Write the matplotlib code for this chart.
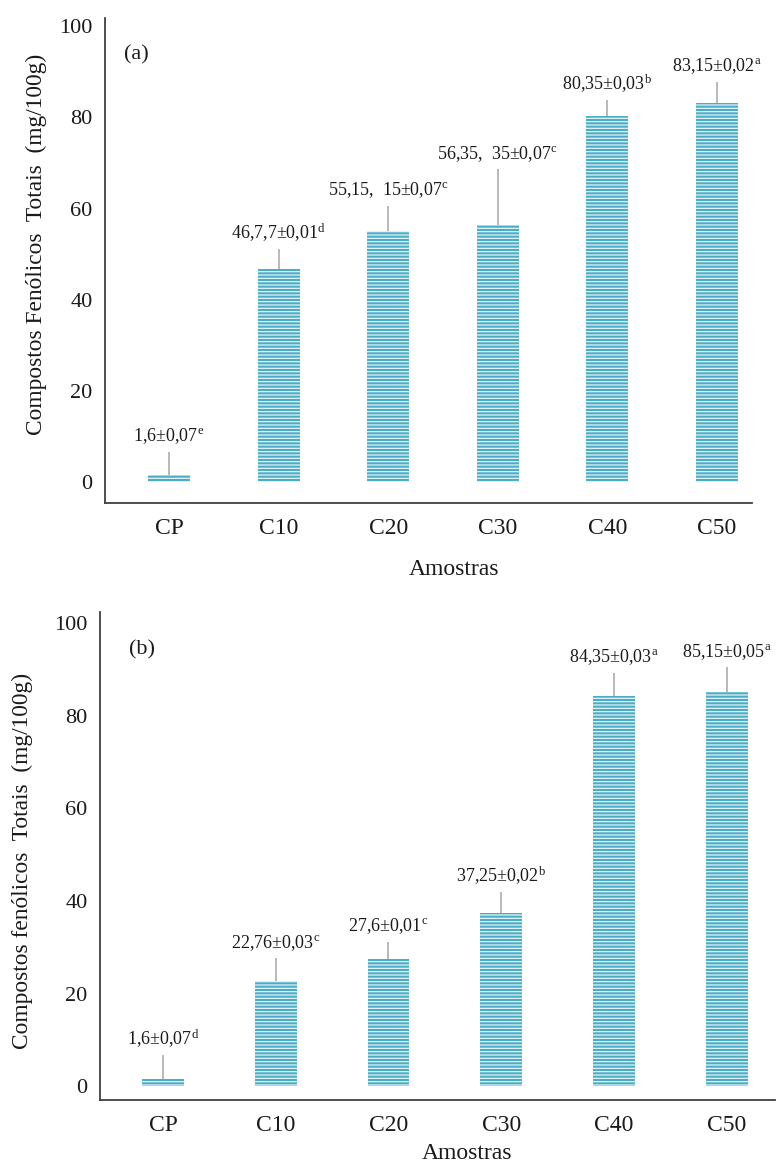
import matplotlib
matplotlib.use("Agg")
import matplotlib.pyplot as plt

plt.rcParams['font.family'] = ['Liberation Serif', 'DejaVu Serif']
plt.rcParams['mathtext.fontset'] = 'custom'
plt.rcParams['mathtext.rm'] = 'Liberation Serif'
plt.rcParams['mathtext.it'] = 'Liberation Serif'
plt.rcParams['hatch.linewidth'] = 0.9

categories = ["CP", "C10", "C20", "C30", "C40", "C50"]

values_a = [1.6, 46.7, 55.15, 56.35, 80.35, 83.15]
errors_a = [5.0, 4.4, 5.4, 12.3, 3.4, 4.6]
texts_a = ["1,6±0,07", "46,7,7±0,01", "55,15,  15±0,07", "56,35,  35±0,07", "80,35±0,03", "83,15±0,02"]
letters_a = ["e", "d", "c", "c", "b", "a"]

values_b = [1.6, 22.6, 27.4, 37.3, 84.3, 85.1]
errors_b = [5.1, 5.0, 3.8, 4.6, 5.0, 5.4]
texts_b = ["1,6±0,07", "22,76±0,03", "27,6±0,01", "37,25±0,02", "84,35±0,03", "85,15±0,05"]
letters_b = ["d", "c", "c", "b", "a", "a"]

W, H = 778, 1164
fig = plt.figure(figsize=(W / 100, H / 100), dpi=100)

bar_color = '#4bacc6'
stripe_color = '#e4f4f8'
err_color = '#a6a6a6'
spine_color = '#404040'
text_color = '#1a1a1a'


def panel(rect, values, errors, texts, letters, ylabel, tag, tagpos, xlim, ylim, width,
          ylabel_pos, xlabel_pos):
    ax = fig.add_axes(rect)
    x = list(range(len(categories)))
    ax.bar(x, values, width=width, color=bar_color, edgecolor=stripe_color,
           linewidth=0, hatch='-----', zorder=2)
    ax.errorbar(x, values, yerr=[[0] * len(errors), errors], fmt='none',
                ecolor=err_color, elinewidth=1.1, capsize=0, zorder=3)
    for xi, v, e, t, l in zip(x, values, errors, texts, letters):
        ax.annotate(t + r"$^{\mathrm{" + l + "}}$", (xi, v + e), xytext=(0, 4),
                    textcoords='offset points', ha='center', va='bottom',
                    fontsize=13, color=text_color)
    ax.set_xlim(*xlim)
    ax.set_ylim(*ylim)
    ax.set_xticks(x)
    ax.set_xticklabels(categories)
    ax.set_yticks([0, 20, 40, 60, 80, 100])
    for s in ['top', 'right']:
        ax.spines[s].set_visible(False)
    for s in ['left', 'bottom']:
        ax.spines[s].set_color(spine_color)
        ax.spines[s].set_linewidth(1.3)
    ax.tick_params(axis='x', length=0, pad=11, labelsize=17, colors=text_color)
    ax.tick_params(axis='y', length=0, pad=9, labelsize=16, colors=text_color)
    ax.set_ylabel(ylabel, fontsize=16.8, color=text_color)
    ax.yaxis.set_label_coords(*ylabel_pos)
    ax.set_xlabel("Amostras", fontsize=17, color=text_color)
    ax.xaxis.set_label_coords(*xlabel_pos)
    ax.text(tagpos[0], tagpos[1], tag, transform=ax.transAxes, fontsize=16,
            ha='center', va='center', color=text_color)
    return ax


panel([105 / W, 1 - 503 / H, (752 - 105) / W, (503 - 18) / H],
      values_a, errors_a, texts_a, letters_a,
      "Compostos Fenólicos  Totais  (mg/100g)", "(a)", (0.049, 0.924),
      (-0.584, 5.32), (-4.6, 101.8), 0.383, (-0.09, 0.534), (0.54, -0.115))

panel([100 / W, 1 - 1100 / H, (775 - 100) / W, (1100 - 612) / H],
      values_b, errors_b, texts_b, letters_b,
      "Compostos fenólicos  Totais  (mg/100g)", "(b)", (0.062, 0.922),
      (-0.56, 5.43), (-3.0, 102.4), 0.372, (-0.099, 0.49), (0.544, -0.088))

fig.savefig("out.png", dpi=100)
